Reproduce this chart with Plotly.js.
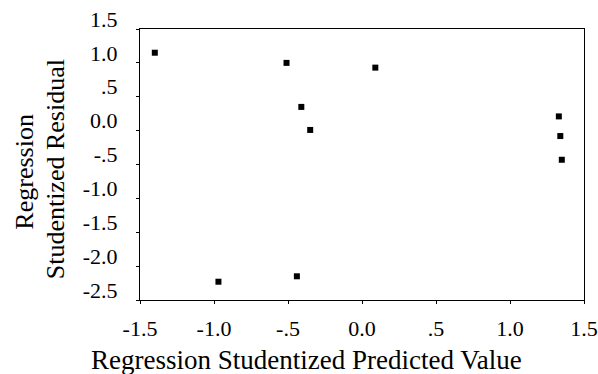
<!DOCTYPE html>
<html>
<head>
<meta charset="utf-8">
<script src="https://cdn.plot.ly/plotly-3.0.1.min.js"></script>
<style>html,body{margin:0;padding:0;background:#fff;}#chart{width:598px;height:374px;}</style>
</head>
<body>
<div id="chart"></div>
<script>
// Regression Studentized Predicted Value (x) vs Studentized Residual (y)
const predicted = [-1.40, -0.51, 0.09, -0.41, -0.35, 1.33, 1.34, 1.35, -0.97, -0.44];
const residual  = [1.15, 1.00, 0.93, 0.35, 0.01, 0.21, -0.08, -0.43, -2.23, -2.15];
const xTickVals = [-1.5, -1.0, -0.5, 0.0, 0.5, 1.0, 1.5];
const xTickText = ['-1.5', '-1.0', '-.5', '0.0', '.5', '1.0', '1.5'];
const yTickVals = [-2.5, -2.0, -1.5, -1.0, -0.5, 0.0, 0.5, 1.0, 1.5];
const yTickText = ['-2.5', '-2.0', '-1.5', '-1.0', '-.5', '0.0', '.5', '1.0', '1.5'];
const xTitle = 'Regression Studentized Predicted Value';
const yTitleLines = ['Regression', 'Studentized Residual'];

const font = 'Liberation Serif';
const data = [{
  type: 'scatter', mode: 'markers',
  x: predicted, y: residual,
  marker: {symbol: 'square', size: 6, color: '#000'},
  hoverinfo: 'skip'
}];
const layout = {
  width: 598, height: 374,
  margin: {l: 140, r: 14, t: 29, b: 74, pad: 0},
  paper_bgcolor: '#fff', plot_bgcolor: '#fff',
  showlegend: false,
  font: {family: font, color: '#000', size: 22},
  xaxis: {
    range: [-1.5, 1.5], tickmode: 'array', tickvals: xTickVals, ticktext: xTickText,
    showgrid: false, zeroline: false, showline: true, mirror: true,
    linecolor: '#000', linewidth: 1, ticks: 'outside', ticklen: 3, tickcolor: '#000',
    ticklabelstandoff: 6,
    tickfont: {family: font, size: 22, color: '#000'}
  },
  yaxis: {
    range: [-2.5, 1.5], tickmode: 'array', tickvals: yTickVals, ticktext: yTickText,
    showgrid: false, zeroline: false, showline: true, mirror: true,
    linecolor: '#000', linewidth: 1, ticks: 'outside', ticklen: 3, tickcolor: '#000',
    ticklabelstandoff: 14, ticklabelshift: -10,
    tickfont: {family: font, size: 22, color: '#000'}
  },
  annotations: [
    {text: xTitle, xref: 'paper', yref: 'paper', x: 0.374, y: -0.221,
     xanchor: 'center', yanchor: 'middle', showarrow: false,
     font: {family: font, size: 27, color: '#000'}},
    {text: yTitleLines[0], xref: 'paper', yref: 'paper', x: -0.261, y: 0.474,
     xanchor: 'center', yanchor: 'middle', showarrow: false, textangle: -90,
     font: {family: font, size: 26, color: '#000'}},
    {text: yTitleLines[1], xref: 'paper', yref: 'paper', x: -0.191, y: 0.483,
     xanchor: 'center', yanchor: 'middle', showarrow: false, textangle: -90,
     font: {family: font, size: 26, color: '#000'}}
  ]
};
Plotly.newPlot('chart', data, layout, {staticPlot: true, displayModeBar: false});
</script>
</body>
</html>
